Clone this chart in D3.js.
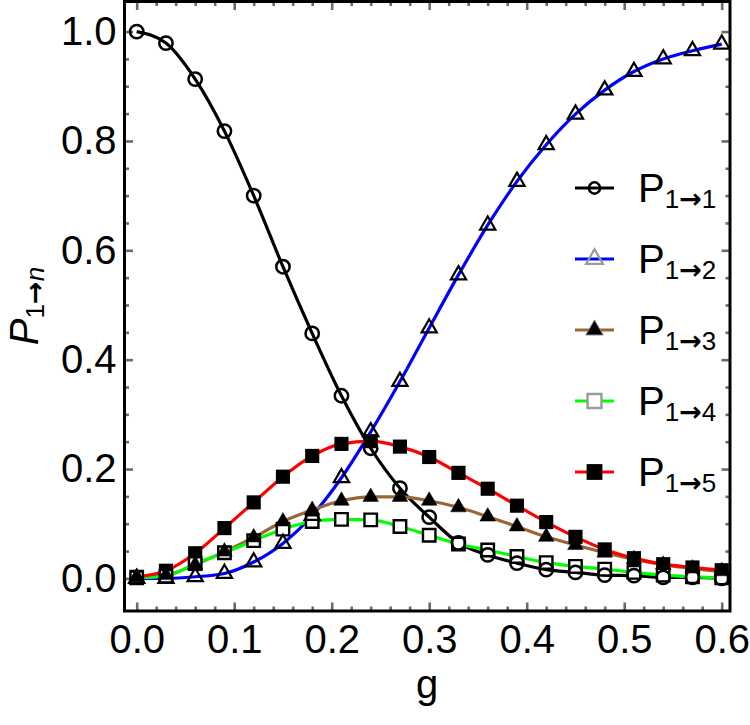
<!DOCTYPE html>
<html>
<head>
<meta charset="utf-8">
<script src="https://cdnjs.cloudflare.com/ajax/libs/d3/7.8.5/d3.min.js"></script>
<style>
  body { margin: 0; background: #fff; }
  svg text { font-family: "Liberation Sans", Arial, sans-serif; fill: #000; }
</style>
</head>
<body>
<div id="chart"></div>
<script>
// coupling g sampled every 0.03
var gValues = [0.00, 0.03, 0.06, 0.09, 0.12, 0.15, 0.18, 0.21, 0.24, 0.27, 0.30,
               0.33, 0.36, 0.39, 0.42, 0.45, 0.48, 0.51, 0.54, 0.57, 0.60];

// transition probabilities
var p11 = [1.000, 0.979, 0.913, 0.818, 0.700, 0.570, 0.448, 0.334, 0.238, 0.165, 0.112,
           0.065, 0.043, 0.028, 0.016, 0.011, 0.006, 0.005, 0.002, 0.002, 0.000];
var p12 = [0.000, 0.000, 0.003, 0.009, 0.030, 0.064, 0.115, 0.184, 0.268, 0.360, 0.458,
           0.555, 0.646, 0.726, 0.793, 0.849, 0.893, 0.927, 0.950, 0.965, 0.977];
var p13 = [0.002, 0.006, 0.025, 0.049, 0.075, 0.104, 0.125, 0.142, 0.149, 0.149, 0.142,
           0.130, 0.113, 0.095, 0.076, 0.061, 0.047, 0.035, 0.025, 0.018, 0.013];
var p14 = [0.001, 0.004, 0.027, 0.047, 0.069, 0.090, 0.104, 0.108, 0.107, 0.095, 0.079,
           0.063, 0.052, 0.040, 0.029, 0.022, 0.017, 0.011, 0.006, 0.003, 0.001];
var p15 = [0.003, 0.014, 0.046, 0.092, 0.139, 0.186, 0.224, 0.246, 0.251, 0.241, 0.222,
           0.193, 0.164, 0.133, 0.103, 0.076, 0.053, 0.037, 0.026, 0.020, 0.015];

var targetLevels = ["1", "2", "3", "4", "5"];
var xTicks = [0.0, 0.1, 0.2, 0.3, 0.4, 0.5, 0.6];
var yTicks = [0.0, 0.2, 0.4, 0.6, 0.8, 1.0];

// styling for each series (line colour + marker)
var series = [
  { values: p11, color: "#000000", marker: "circle" },
  { values: p12, color: "#0000ff", marker: "openTriangle" },
  { values: p13, color: "#996633", marker: "filledTriangle" },
  { values: p14, color: "#00ff00", marker: "openSquare" },
  { values: p15, color: "#ff0000", marker: "filledSquare" }
];

var svg = d3.select("#chart").append("svg")
    .attr("width", 750)
    .attr("height", 725);

var x = d3.scaleLinear().domain([-0.0125, 0.6085]).range([124.5, 730]);
var y = d3.scaleLinear().domain([-0.0596, 1.055]).range([611, 1.5]);

var xMinor = d3.range(0, 0.6001, 0.02).filter(function (d) { return Math.abs(d * 10 - Math.round(d * 10)) > 1e-6; });
var yMinor = d3.range(0, 1.0001, 0.05).filter(function (d) { return Math.abs(d * 5 - Math.round(d * 5)) > 1e-6; });

/////////////// ticks on all four sides ///////////////
function styleAxis(g) {
    g.select(".domain").remove();
    g.selectAll(".tick line").attr("stroke", "#6a6a6a").attr("stroke-width", 2.6);
    g.selectAll(".tick text").attr("font-size", 40);
}

svg.append("g").attr("transform", "translate(0,611)")
    .call(d3.axisBottom(x).tickValues(xTicks).tickSize(-8.5).tickPadding(14).tickFormat(d3.format(".1f")))
    .call(styleAxis);
svg.append("g").attr("transform", "translate(0,611)")
    .call(d3.axisBottom(x).tickValues(xMinor).tickSize(-4.5).tickFormat(""))
    .call(styleAxis);
svg.append("g").attr("transform", "translate(0,1.5)")
    .call(d3.axisTop(x).tickValues(xTicks).tickSize(-8.5).tickFormat(""))
    .call(styleAxis);
svg.append("g").attr("transform", "translate(0,1.5)")
    .call(d3.axisTop(x).tickValues(xMinor).tickSize(-4.5).tickFormat(""))
    .call(styleAxis);

svg.append("g").attr("transform", "translate(124.5,0)")
    .call(d3.axisLeft(y).tickValues(yTicks).tickSize(-8.5).tickPadding(8).tickFormat(d3.format(".1f")))
    .call(styleAxis);
svg.append("g").attr("transform", "translate(124.5,0)")
    .call(d3.axisLeft(y).tickValues(yMinor).tickSize(-4.5).tickFormat(""))
    .call(styleAxis);
svg.append("g").attr("transform", "translate(730,0)")
    .call(d3.axisRight(y).tickValues(yTicks).tickSize(-8.5).tickFormat(""))
    .call(styleAxis);
svg.append("g").attr("transform", "translate(730,0)")
    .call(d3.axisRight(y).tickValues(yMinor).tickSize(-4.5).tickFormat(""))
    .call(styleAxis);

/////////////// curves ///////////////
var line = d3.line()
    .x(function (d, i) { return x(gValues[i]); })
    .y(function (d) { return y(d); })
    .curve(d3.curveMonotoneX);

series.forEach(function (s) {
    svg.append("path")
        .attr("d", line(s.values))
        .attr("fill", "none")
        .attr("stroke", s.color)
        .attr("stroke-width", 3.2);
});

/////////////// markers ///////////////
function drawMarker(sel, type, legend) {
    var k = legend ? 1.25 : 1;
    var edge = legend ? "#9a9a9a" : "#000";
    if (type === "circle") {
        sel.append("path").attr("d", d3.symbol(d3.symbolCircle, legend ? 100 : 140)())
            .attr("fill", "none").attr("stroke", "#000").attr("stroke-width", 2.5);
    } else if (type === "openTriangle") {
        sel.append("path").attr("d", d3.symbol(d3.symbolTriangle, 100 * k)())
            .attr("fill", "none").attr("stroke", edge).attr("stroke-width", 2.2);
    } else if (type === "filledTriangle") {
        sel.append("path").attr("d", d3.symbol(d3.symbolTriangle, 105 * k)())
            .attr("fill", "#000").attr("stroke", legend ? "#888" : "#000").attr("stroke-width", legend ? 1 : 0.5);
    } else if (type === "openSquare") {
        sel.append("path").attr("d", d3.symbol(d3.symbolSquare, 155 * k)())
            .attr("fill", "#fff").attr("stroke", edge).attr("stroke-width", 2.4);
    } else {
        sel.append("path").attr("d", d3.symbol(d3.symbolSquare, 200 * k)())
            .attr("fill", "#000");
    }
}

series.slice().reverse().forEach(function (s) {
    var pts = svg.append("g").selectAll("g")
        .data(s.values)
        .enter()
        .append("g")
        .attr("transform", function (d, i) { return "translate(" + x(gValues[i]) + "," + y(d) + ")"; });
    pts.each(function () { drawMarker(d3.select(this), s.marker, false); });
});

/////////////// frame ///////////////
svg.append("rect")
    .attr("x", 124.5).attr("y", 1.5)
    .attr("width", 605.5).attr("height", 609.5)
    .attr("fill", "none").attr("stroke", "#000").attr("stroke-width", 3);

// P with a "1 -> n" subscript; the arrow glyph is taken from DejaVu (full-size arrow)
function subscriptLabel(t, last, italicLast) {
    t.append("tspan").attr("font-style", italicLast ? "italic" : null).text("P");
    t.append("tspan").attr("font-size", 26).attr("dy", 6).text("1");
    t.append("tspan").attr("font-size", 27).attr("font-family", "DejaVu Sans").attr("font-weight", "bold").text("→");
    t.append("tspan").attr("font-size", 26).attr("font-style", italicLast ? "italic" : null).text(last);
}

/////////////// legend ///////////////
var legY = d3.scaleLinear().domain([0, 4]).range([188, 472]);
series.forEach(function (s, i) {
    var row = svg.append("g").attr("transform", "translate(0," + legY(i) + ")");
    row.append("line").attr("x1", 575).attr("x2", 614)
        .attr("stroke", s.color).attr("stroke-width", 3);
    var m = row.append("g").attr("transform", "translate(594.5,0)");
    drawMarker(m, s.marker, true);
    var t = row.append("text").attr("x", 638).attr("y", 14).attr("font-size", 40);
    subscriptLabel(t, targetLevels[i], false);
});

/////////////// axis titles ///////////////
svg.append("text")
    .attr("x", 427).attr("y", 698)
    .attr("text-anchor", "middle")
    .attr("font-size", 40)
    .text("g");

var yl = svg.append("text")
    .attr("transform", "translate(38,306) rotate(-90)")
    .attr("text-anchor", "middle")
    .attr("font-size", 40);
subscriptLabel(yl, "n", true);
</script>
</body>
</html>
